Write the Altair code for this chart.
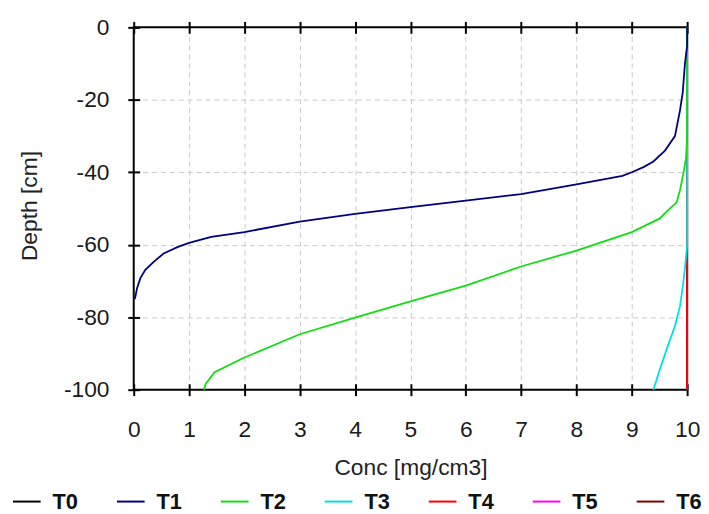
import altair as alt
import pandas as pd

series = ["T0", "T1", "T2", "T3", "T4", "T5", "T6"]
colors = ["#000000", "#000080", "#11dd11", "#00e0e0", "#ff0000", "#ff00ff", "#800000"]

t0_depth = [0, -100]
t0_conc = [10, 10]

t1_depth = [0, -5, -10, -18, -23, -30, -34, -37, -38.5, -40, -41, -43.3, -46, -47.8, -49.6,
            -51.5, -53.6, -56.5, -57.8, -59.5, -60.6, -62.4, -64.7, -66.9, -69.2, -72, -75]
t1_conc = [10, 10, 9.96, 9.92, 9.87, 9.78, 9.6, 9.39, 9.22, 9.0, 8.83, 8.0, 7.0, 6.0, 5.0,
           4.0, 3.0, 2.0, 1.4, 1.0, 0.8, 0.54, 0.36, 0.21, 0.12, 0.06, 0.02]

t2_depth = [0, -30, -36, -40.5, -45, -48.3, -51, -52.8, -56.5, -61.6, -66, -71.3,
            -75.6, -80.1, -84.7, -91.1, -95.2, -98.4, -100]
t2_conc = [10, 10, 9.98, 9.93, 9.87, 9.81, 9.62, 9.5, 9.0, 8.0, 7.0, 6.0,
           5.0, 4.0, 3.0, 2.0, 1.46, 1.3, 1.27]

t3_depth = [0, -60, -65, -70.6, -77, -82.4, -88.8, -94.3, -100]
t3_conc = [10, 10, 9.97, 9.93, 9.87, 9.78, 9.63, 9.51, 9.39]

t4_depth = [0, -100]
t4_conc = [10, 10]
t5_depth = [0, -100]
t5_conc = [10, 10]
t6_depth = [0, -100]
t6_conc = [10, 10]

x_ticks = [0, 1, 2, 3, 4, 5, 6, 7, 8, 9, 10]
y_ticks = [-100, -80, -60, -40, -20, 0]

all_depths = [t0_depth, t1_depth, t2_depth, t3_depth, t4_depth, t5_depth, t6_depth]
all_concs = [t0_conc, t1_conc, t2_conc, t3_conc, t4_conc, t5_conc, t6_conc]

rows = []
for s, ds, cs in zip(series, all_depths, all_concs):
    for i, (d, c) in enumerate(zip(ds, cs)):
        rows.append({"series": s, "depth": d, "conc": c, "idx": i})
df = pd.DataFrame(rows)

FONT = "Liberation Sans"

xscale = alt.Scale(domain=[0, 10], nice=False, zero=False)
yscale = alt.Scale(domain=[-100, 0], nice=False, zero=False)

color = alt.Color(
    "series:N",
    scale=alt.Scale(domain=series, range=colors),
    legend=alt.Legend(
        title=None, orient="none", direction="horizontal",
        legendX=-123, legendY=464,
        symbolType="stroke", symbolSize=784, symbolStrokeWidth=2,
        labelFont=FONT, labelFontSize=22, labelFontWeight="bold", labelColor="#111111",
        labelOffset=11, columnPadding=35, gridAlign="all",
    ),
)

x_grid_op = {"condition": {"test": "datum.value <= 0 || datum.value >= 10", "value": 0}, "value": 1}
y_grid_op = {"condition": {"test": "datum.value <= -100 || datum.value >= 0", "value": 0}, "value": 1}

x_axis_main = alt.Axis(
    values=x_ticks, title="Conc [mg/cm3]", grid=True, gridColor="#c8c8c8",
    gridDash=[5, 4], gridWidth=1, gridOpacity=x_grid_op, domain=False, offset=-6,
    tickSize=12, tickColor="black", tickWidth=2, labelFont=FONT, labelFontSize=23,
    labelColor="#1a1a1a", labelPadding=23, labelFlush=False,
    labelExpr="datum.value + ''",
    titleFont=FONT, titleFontSize=23,
    titleFontWeight="normal", titleColor="#222222", titleY=92,
    titleBaseline="alphabetic",
)
y_axis_main = alt.Axis(
    values=y_ticks, title="Depth [cm]", grid=True, gridColor="#c8c8c8",
    gridDash=[5, 4], gridWidth=1, gridOpacity=y_grid_op, domain=False, offset=-6,
    tickSize=12, tickColor="black", tickWidth=2, labelFont=FONT, labelFontSize=23,
    labelColor="#1a1a1a", labelPadding=19, labelFlush=False,
    labelExpr="datum.value + ''",
    titleFont=FONT, titleFontSize=23,
    titleFontWeight="normal", titleColor="#222222", titleX=-104, titleY=180,
    titleAngle=-90, titleBaseline="alphabetic", titleAlign="center",
)
x_axis_top = alt.Axis(
    values=x_ticks, orient="top", title=None, labels=False, grid=False,
    domain=False, offset=-6, tickSize=12, tickColor="black", tickWidth=2,
)

base = alt.Chart(df)

draw_order = ["T0", "T5", "T6", "T4", "T3", "T2", "T1"]
layers = []
for k, s in enumerate(draw_order):
    first = k == 0
    layer = base.transform_filter(alt.datum.series == s).mark_line(
        strokeWidth=1.8
    ).encode(
        x=alt.X("conc:Q", scale=xscale, axis=x_axis_main if first else None),
        y=alt.Y("depth:Q", scale=yscale, axis=y_axis_main if first else None),
        color=color,
        order="idx:Q",
    )
    layers.append(layer)

top_axis_layer = base.mark_line(opacity=0).encode(
    x=alt.X("conc:Q", scale=xscale, axis=x_axis_top),
    y=alt.Y("depth:Q", scale=yscale, axis=None),
    detail="series:N",
)
layers.append(top_axis_layer)

chart = alt.layer(*layers).resolve_axis(x="independent", y="independent").properties(
    width=559, height=366,
    autosize=alt.AutoSizeParams(type="none"),
    padding={"left": 127, "top": 17, "right": 14, "bottom": 123},
    background="white",
).configure_view(stroke="black", strokeWidth=2)

chart.save("out.html", embed_options={"renderer": "svg", "actions": False})
